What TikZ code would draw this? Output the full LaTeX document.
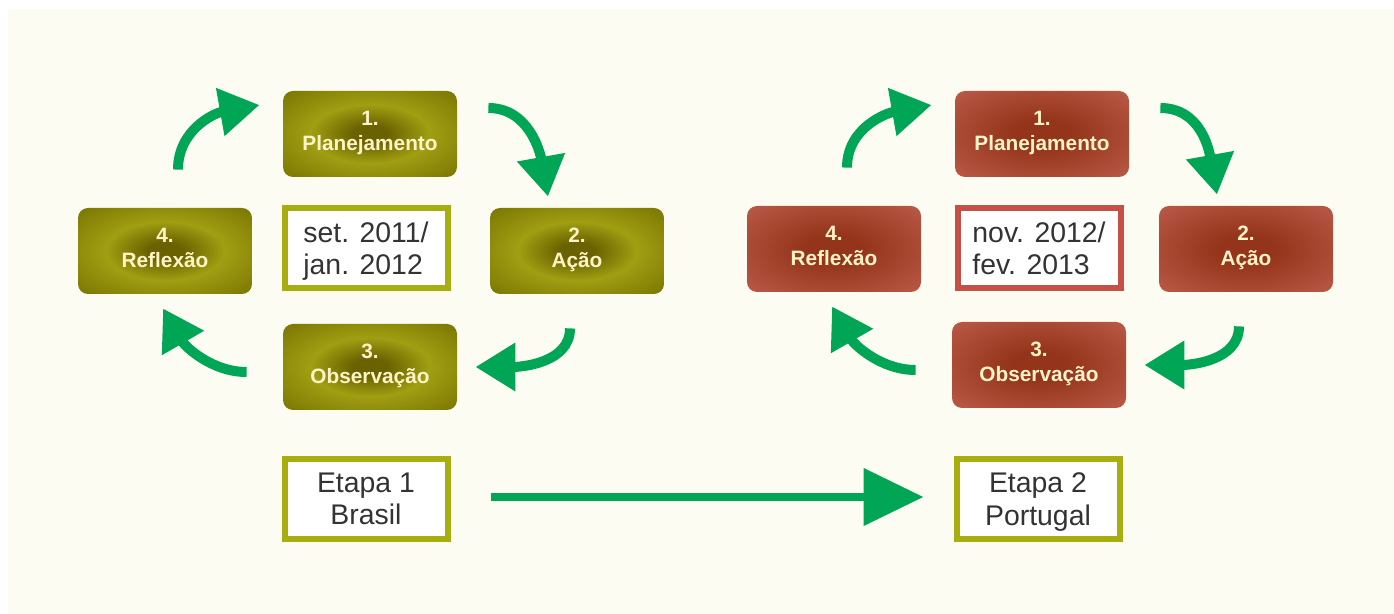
\documentclass[tikz,border=0pt]{standalone}
\usepackage{fontspec}
\setmainfont{Liberation Sans}
\usetikzlibrary{arrows.meta,calc}

\definecolor{cream}{RGB}{253,252,242}
\definecolor{olivein}{RGB}{106,98,0}
\definecolor{olivering}{RGB}{160,158,18}
\definecolor{oliveout}{RGB}{116,112,0}
\definecolor{rustin}{RGB}{148,52,26}
\definecolor{rustout}{RGB}{205,110,96}
\definecolor{flowgreen}{RGB}{0,166,85}
\definecolor{olframe}{RGB}{168,174,16}
\definecolor{rdframe}{RGB}{196,80,72}
\definecolor{labeltext}{RGB}{255,244,200}
\definecolor{datetext}{RGB}{51,51,51}

% glowing fills of the cycle steps
\pgfdeclareradialshading{oliveglow}{\pgfpoint{0bp}{0bp}}{color(0bp)=(olivein); color(5bp)=(olivein); color(17bp)=(olivering); color(38bp)=(oliveout); color(50bp)=(oliveout)}
\pgfdeclareradialshading{rustglow}{\pgfpoint{0bp}{0bp}}{color(0bp)=(rustin); color(8bp)=(rustin); color(50bp)=(rustout)}

\tikzset{
  stepbox/.style={rounded corners=5pt, minimum width=87pt, minimum height=43pt,
    text=labeltext, font=\bfseries\fontsize{10.4}{12.5}\selectfont, align=center,
    inner sep=0pt, text depth=3.5pt},
  olivebox/.style={stepbox, shade, shading=oliveglow},
  rustbox/.style={stepbox, shade, shading=rustglow},
  framebox/.style={fill=white, line width=3pt, minimum width=81.5pt, minimum height=40pt,
    text=datetext, font=\fontsize{14.2}{16.2}\selectfont, inner sep=0pt, text depth=0pt},
  flow/.style={draw=flowgreen, line width=5pt, -{Triangle[length=20pt,width=23pt]}},
  longflow/.style={draw=flowgreen, line width=4pt, -{Triangle[length=30pt,width=28pt]}},
}

\begin{document}
\begin{tikzpicture}[x=0.5pt,y=-0.5pt]
  \useasboundingbox (0,0) rectangle (1394,614);
  \fill[white] (0,0) rectangle (1394,614);
  \fill[cream] (8,9) rectangle (1394,614);

  % first cycle: Brasil
  \node[olivebox] (p1) at (370,134) {1.\\Planejamento};
  \node[olivebox] (a1) at (577,251) {2.\\Ação};
  \node[olivebox] (o1) at (370,367) {3.\\Observação};
  \node[olivebox] (r1) at (165,251) {4.\\Reflexão};
  \node[framebox, draw=olframe, align=left] (d1) at (366,248) {set. 2011/\\jan. 2012};
  \node[framebox, draw=olframe, align=center] (e1) at (366,499) {Etapa 1\\Brasil};

  % second cycle: Portugal
  \node[rustbox] (p2) at (1042,134) {1.\\Planejamento};
  \node[rustbox] (a2) at (1246,249) {2.\\Ação};
  \node[rustbox] (o2) at (1039,365) {3.\\Observação};
  \node[rustbox] (r2) at (834,249) {4.\\Reflexão};
  \node[framebox, draw=rdframe, align=left] (d2) at (1039,248) {nov. 2012/\\fev. 2013};
  \node[framebox, draw=olframe, align=center] (e2) at (1038,499) {Etapa 2\\Portugal};

  % cycle arrows
  \foreach \p/\a/\o/\r in {p1/a1/o1/r1, p2/a2/o2/r2}{
    \draw[flow] ($(\r.north)+(13,-38)$) .. controls +(0,-40) and +(-45,8) .. ($(\p.west)+(-23,-29)$);
    \draw[flow] ($(\p.east)+(31,-26)$) .. controls +(40,0) and +(-8,-45) .. ($(\a.north)+(-29,-11)$);
    \draw[flow] ($(\a.south)+(-7,34)$) .. controls +(0,35) and +(45,0) .. ($(\o.east)+(18,0)$);
    \draw[flow] ($(\o.west)+(-36,5)$) .. controls +(-35,0) and +(22,38) .. ($(\r.south)+(-2,14)$);
  }

  % from stage 1 to stage 2
  \draw[longflow] ($(e1.east)+(40,-2)$) -- ($(e2.west)+(-30,-2)$);
\end{tikzpicture}
\end{document}
